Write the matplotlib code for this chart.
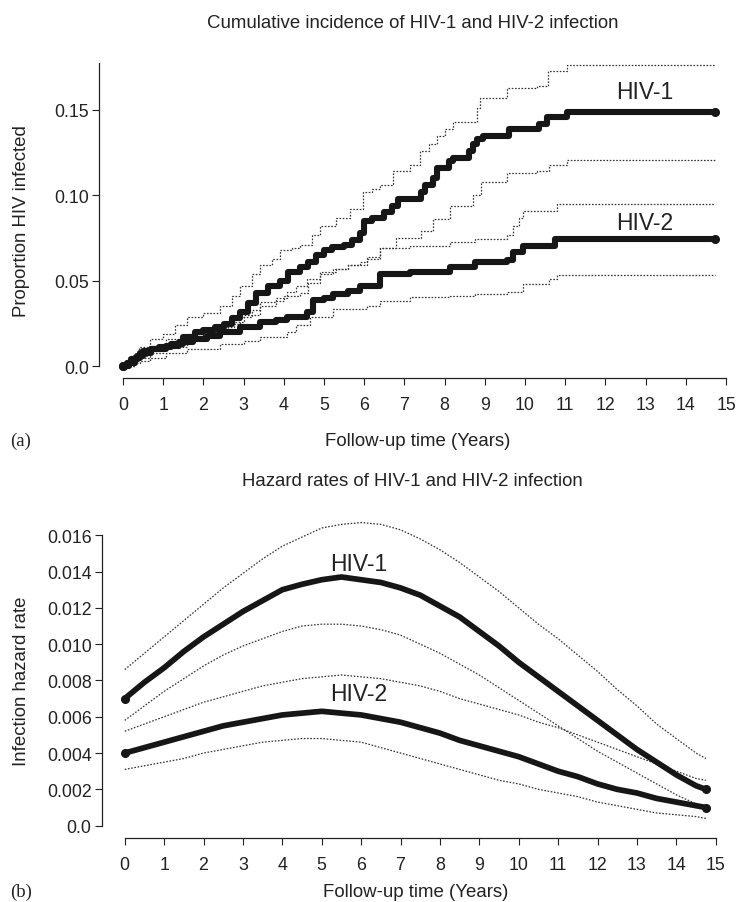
import matplotlib
matplotlib.use("Agg")
import matplotlib.pyplot as plt

plt.rcParams['font.family'] = ['Liberation Sans', 'DejaVu Sans']

# ---------------- data: panel (a) Kaplan-Meier cumulative incidence ----------------
km1_t = [0, 0.1, 0.2, 0.35, 0.5, 0.7, 0.9, 1.2, 1.5, 1.8, 2.0, 2.3, 2.5, 2.7, 2.9, 3.1, 3.3, 3.6, 3.9, 4.1,
         4.4, 4.6, 4.8, 5.0, 5.2, 5.5, 5.7, 5.9, 6.0, 6.2, 6.5, 6.7, 6.85, 7.4, 7.5, 7.7, 7.8, 8.1, 8.2, 8.6,
         8.7, 8.8, 8.95, 9.6, 10.35, 10.55, 11.05, 14.73]
km1_v = [0, 0.002, 0.004, 0.006, 0.009, 0.010, 0.011, 0.013, 0.017, 0.020, 0.021, 0.023, 0.025, 0.028, 0.032,
         0.037, 0.043, 0.047, 0.050, 0.055, 0.058, 0.061, 0.065, 0.068, 0.070, 0.071, 0.074, 0.078, 0.085, 0.087,
         0.090, 0.094, 0.098, 0.102, 0.106, 0.110, 0.116, 0.120, 0.122, 0.126, 0.130, 0.133, 0.135, 0.139, 0.142,
         0.146, 0.149, 0.149]
km1_hi_t = [0, 0.2, 0.4, 0.67, 1.0, 1.3, 1.6, 2.0, 2.4, 2.7, 2.9, 3.2, 3.4, 3.7, 3.9, 4.2, 4.4, 4.7, 4.9, 5.3,
            5.65, 5.97, 6.2, 6.4, 6.72, 7.14, 7.39, 7.6, 7.8, 8.0, 8.2, 8.8, 8.88, 9.55, 10.3, 10.58, 11.04, 14.73]
km1_hi_v = [0, 0.006, 0.011, 0.016, 0.019, 0.024, 0.029, 0.031, 0.035, 0.041, 0.047, 0.054, 0.059, 0.063, 0.068,
            0.069, 0.071, 0.077, 0.082, 0.087, 0.092, 0.102, 0.104, 0.106, 0.114, 0.118, 0.126, 0.130, 0.135,
            0.139, 0.143, 0.151, 0.157, 0.163, 0.164, 0.173, 0.1765, 0.1765]
km1_lo_t = [0, 0.3, 0.67, 1.0, 1.6, 2.0, 2.4, 2.75, 3.0, 3.4, 3.8, 4.0, 4.4, 4.6, 4.9, 5.3, 5.6, 5.9, 6.07, 6.4,
            6.8, 7.4, 7.7, 8.13, 8.7, 8.9, 9.55, 10.3, 10.6, 11.04, 14.73]
km1_lo_v = [0, 0.003, 0.008, 0.011, 0.018, 0.020, 0.023, 0.026, 0.030, 0.035, 0.038, 0.041, 0.043, 0.049, 0.055,
            0.057, 0.059, 0.061, 0.064, 0.069, 0.075, 0.079, 0.086, 0.094, 0.100, 0.108, 0.113, 0.114, 0.118,
            0.1206, 0.1206]

km2_t = [0, 0.15, 0.3, 0.42, 0.7, 1.08, 1.4, 1.75, 2.1, 2.4, 2.9, 3.4, 3.8, 4.07, 4.57, 4.73, 5.0, 5.23, 5.6,
         5.9, 6.4, 7.14, 8.13, 8.76, 9.55, 9.7, 9.95, 10.75, 14.73]
km2_v = [0, 0.002, 0.005, 0.008, 0.010, 0.0118, 0.014, 0.016, 0.018, 0.020, 0.023, 0.026, 0.027, 0.029, 0.032,
         0.039, 0.040, 0.042, 0.044, 0.047, 0.054, 0.055, 0.058, 0.061, 0.062, 0.067, 0.0706, 0.0747, 0.0747]
km2_hi_t = [0, 0.3, 0.6, 1.08, 1.6, 2.25, 2.6, 2.9, 3.2, 3.4, 3.8, 4.07, 4.3, 4.57, 4.9, 5.23, 5.6, 6.07, 6.4,
            7.14, 8.13, 8.76, 9.55, 9.7, 9.85, 9.95, 10.8, 14.73]
km2_hi_v = [0, 0.006, 0.010, 0.016, 0.019, 0.022, 0.025, 0.029, 0.033, 0.0376, 0.040, 0.0435, 0.047, 0.051,
            0.054, 0.057, 0.059, 0.063, 0.069, 0.0706, 0.073, 0.0747, 0.077, 0.082, 0.087, 0.0906, 0.0947, 0.0947]
km2_lo_t = [0, 0.2, 0.42, 1.08, 1.6, 2.4, 3.0, 3.4, 4.07, 4.3, 4.65, 5.23, 6.07, 6.4, 7.14, 8.13, 8.76, 9.55,
            9.95, 10.6, 10.8, 14.73]
km2_lo_v = [0, 0.002, 0.005, 0.008, 0.010, 0.013, 0.015, 0.017, 0.020, 0.024, 0.029, 0.0335, 0.035, 0.038,
            0.0406, 0.041, 0.042, 0.0435, 0.048, 0.051, 0.0535, 0.0535]

# ---------------- data: panel (b) smoothed hazard rates ----------------
hz_t = [0, 0.5, 1, 1.5, 2, 2.5, 3, 3.5, 4, 4.5, 5, 5.5, 6, 6.5, 7, 7.5, 8, 8.5, 9, 9.5, 10, 10.5, 11, 11.5,
        12, 12.5, 13, 13.5, 14, 14.5, 14.75]
hz1 = [0.0070, 0.0079, 0.0087, 0.0096, 0.0104, 0.0111, 0.0118, 0.0124, 0.0130, 0.0133, 0.01355, 0.0137,
       0.01355, 0.0134, 0.0131, 0.0127, 0.0121, 0.0115, 0.0107, 0.0099, 0.0090, 0.0082, 0.0074, 0.0066,
       0.0058, 0.0050, 0.0042, 0.0035, 0.0028, 0.0022, 0.0020]
hz1_hi = [0.0086, 0.0095, 0.0104, 0.0113, 0.0122, 0.0131, 0.0139, 0.0147, 0.0154, 0.0159, 0.0164, 0.0166,
          0.0167, 0.0166, 0.0163, 0.0158, 0.0152, 0.0145, 0.0137, 0.0129, 0.0120, 0.0111, 0.0103, 0.0094,
          0.0085, 0.0075, 0.0066, 0.0056, 0.0048, 0.0040, 0.0037]
hz1_lo = [0.0058, 0.0066, 0.0074, 0.0081, 0.0088, 0.0094, 0.0099, 0.0103, 0.0107, 0.0110, 0.0111, 0.0111,
          0.0110, 0.0108, 0.0105, 0.0100, 0.0095, 0.0089, 0.0083, 0.0076, 0.0069, 0.0062, 0.0055, 0.0048,
          0.0041, 0.0035, 0.0029, 0.0023, 0.0017, 0.0012, 0.0010]
hz2 = [0.0040, 0.0043, 0.0046, 0.0049, 0.0052, 0.0055, 0.0057, 0.0059, 0.0061, 0.0062, 0.0063, 0.0062,
       0.0061, 0.0059, 0.0057, 0.0054, 0.0051, 0.0047, 0.0044, 0.0041, 0.0038, 0.0034, 0.0030, 0.0027,
       0.0023, 0.0020, 0.0018, 0.0015, 0.0013, 0.0011, 0.0010]
hz2_hi = [0.0052, 0.0056, 0.0060, 0.0064, 0.0068, 0.0071, 0.0074, 0.0077, 0.0079, 0.0081, 0.0082, 0.0083,
          0.0082, 0.0081, 0.0079, 0.0077, 0.0074, 0.0070, 0.0067, 0.0064, 0.0061, 0.0057, 0.0054, 0.0050,
          0.0046, 0.0042, 0.0038, 0.0034, 0.0030, 0.0026, 0.0025]
hz2_lo = [0.0031, 0.0033, 0.0035, 0.0037, 0.0040, 0.0042, 0.0044, 0.0046, 0.0047, 0.0048, 0.0048, 0.0047,
          0.0046, 0.0043, 0.0040, 0.0037, 0.0034, 0.0031, 0.0028, 0.0025, 0.0023, 0.0020, 0.0018, 0.0016,
          0.0013, 0.0011, 0.0009, 0.0007, 0.0006, 0.0005, 0.0004]

x_ticks = list(range(0, 16))
a_yticks = [0.0, 0.05, 0.10, 0.15]
a_ylabels = ['0.0', '0.05', '0.10', '0.15']
b_yticks = [0.0, 0.002, 0.004, 0.006, 0.008, 0.010, 0.012, 0.014, 0.016]
b_ylabels = ['0.0', '0.002', '0.004', '0.006', '0.008', '0.010', '0.012', '0.014', '0.016']

title_a = 'Cumulative incidence of HIV-1 and HIV-2 infection'
title_b = 'Hazard rates of HIV-1 and HIV-2 infection'
xlabel = 'Follow-up time (Years)'
ylabel_a = 'Proportion HIV infected'
ylabel_b = 'Infection hazard rate'

# ---------------- figure ----------------
W, H = 737, 903
fig = plt.figure(figsize=(W / 100, H / 100), dpi=100)

TICK_FS = 12.8
LAB_FS = 13.4
ANN_FS = 16.5
TXT_COL = '#222222'
EST_COL = '#161616'
CI_COL = '#333333'
CI_LS = (0, (1.3, 1.3))


def style_axes(ax, ybounds, yticks, ylabels):
    for s in ['top', 'right']:
        ax.spines[s].set_visible(False)
    ax.spines['left'].set_bounds(*ybounds)
    ax.spines['bottom'].set_bounds(0, 15)
    for s in ['left', 'bottom']:
        ax.spines[s].set_linewidth(0.9)
        ax.spines[s].set_color(TXT_COL)
    ax.set_xticks(x_ticks)
    ax.set_xticklabels([str(v) for v in x_ticks])
    ax.set_yticks(yticks)
    ax.set_yticklabels(ylabels)
    ax.tick_params(axis='both', direction='out', length=5.2, width=0.8, color=TXT_COL,
                   labelsize=TICK_FS, labelcolor=TXT_COL)
    ax.tick_params(axis='x', pad=7.5)
    ax.tick_params(axis='y', pad=2)
    ax.patch.set_visible(False)


# ---- panel (a)
axa = fig.add_axes([99.3 / W, 1 - 379.3 / H, 640.4 / W, 324.8 / H])
axa.set_xlim(-0.59, 15.34)
axa.set_ylim(-0.00704, 0.18303)
for t, v in [(km1_hi_t, km1_hi_v), (km1_lo_t, km1_lo_v), (km2_hi_t, km2_hi_v), (km2_lo_t, km2_lo_v)]:
    axa.plot(t, v, drawstyle='steps-post', color=CI_COL, lw=0.9, ls=CI_LS)
for t, v in [(km1_t, km1_v), (km2_t, km2_v)]:
    axa.plot(t, v, drawstyle='steps-post', color=EST_COL, lw=4.4, solid_capstyle='round',
             solid_joinstyle='round', marker='o', markersize=5.5, markevery=[0, len(t) - 1])
style_axes(axa, (0, 0.1775), a_yticks, a_ylabels)
axa.text(12.97, 0.1608, 'HIV-1', fontsize=ANN_FS, ha='center', va='center', color=TXT_COL)
axa.text(12.97, 0.0841, 'HIV-2', fontsize=ANN_FS, ha='center', va='center', color=TXT_COL)

# ---- panel (b)
axb = fig.add_axes([101.5 / W, 1 - 839 / H, 627.6 / W, 329.6 / H])
axb.set_xlim(-0.59, 15.34)
axb.set_ylim(-0.00068, 0.01748)
for v in [hz1_hi, hz1_lo, hz2_hi, hz2_lo]:
    axb.plot(hz_t, v, color=CI_COL, lw=0.9, ls=CI_LS)
for v in [hz1, hz2]:
    axb.plot(hz_t, v, color=EST_COL, lw=4.1, solid_capstyle='round', solid_joinstyle='round',
             marker='o', markersize=5.5, markevery=[0, len(hz_t) - 1])
style_axes(axb, (0, 0.016), b_yticks, b_ylabels)
axb.text(5.95, 0.01447, 'HIV-1', fontsize=ANN_FS, ha='center', va='center', color=TXT_COL)
axb.text(5.95, 0.00726, 'HIV-2', fontsize=ANN_FS, ha='center', va='center', color=TXT_COL)

# ---- free text
def ftext(px, py, s, **kw):
    fig.text(px / W, 1 - py / H, s, **kw)

ftext(413, 23, title_a, fontsize=LAB_FS, ha='center', va='center', color=TXT_COL)
ftext(412, 482, title_b, fontsize=LAB_FS, ha='center', va='center', color=TXT_COL)
ftext(418, 446, xlabel, fontsize=LAB_FS, ha='center', va='baseline', color=TXT_COL)
ftext(416, 897, xlabel, fontsize=LAB_FS, ha='center', va='baseline', color=TXT_COL)
ftext(22, 221, ylabel_a, fontsize=LAB_FS, ha='center', va='center', rotation=90, color=TXT_COL)
ftext(22, 681, ylabel_b, fontsize=LAB_FS, ha='center', va='center', rotation=90, color=TXT_COL)
ftext(21, 446, '(a)', fontsize=13.5, ha='center', va='baseline', family=['Liberation Serif', 'DejaVu Serif'],
      color=TXT_COL)
ftext(21, 897, '(b)', fontsize=13.5, ha='center', va='baseline', family=['Liberation Serif', 'DejaVu Serif'],
      color=TXT_COL)

fig.savefig('out.png', dpi=100)
